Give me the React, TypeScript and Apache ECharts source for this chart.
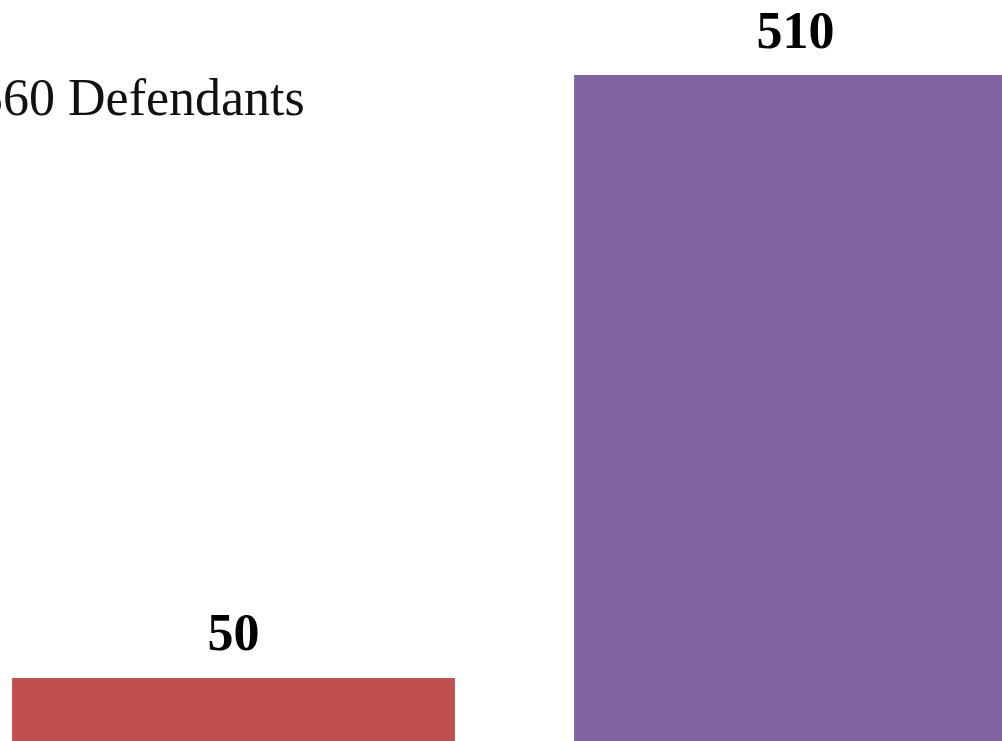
import React, { useEffect, useRef } from "react";
import * as echarts from "echarts";

const categories = ["Group A", "Group B"];
const values = [50, 510];
const barColors = ["#C0504D", "#8064A2"];
const titleText = "560 Defendants";

export default function App() {
  const ref = useRef<HTMLDivElement>(null);
  useEffect(() => {
    if (!ref.current) return;
    const chart = echarts.init(ref.current, undefined, { renderer: "svg" });
    chart.setOption({
      animation: false,
      backgroundColor: "#ffffff",
      grid: { left: 52.5, right: 73.5, top: 9.5, bottom: 56.5, containLabel: false },
      xAxis: {
        type: "category",
        data: categories,
        show: false,
      },
      yAxis: {
        type: "value",
        min: 0,
        max: 560,
        show: false,
        splitLine: { show: false },
      },
      graphic: [
        {
          type: "text",
          x: 77,
          y: 97,
          style: {
            text: titleText,
            fontFamily: "Liberation Serif",
            fontSize: 52,
            fill: "#111111",
            verticalAlign: "middle",
            align: "left",
          },
        },
      ],
      series: [
        {
          type: "bar",
          barCategoryGap: "21.2%",
          data: values.map((v, i) => ({ value: v, itemStyle: { color: barColors[i] } })),
          label: {
            show: true,
            position: "top",
            distance: 19,
            fontFamily: "Liberation Serif",
            fontWeight: "bold",
            fontSize: 52,
            color: "#000000",
          },
        },
      ],
    });
    return () => chart.dispose();
  }, []);
  return (
    <div style={{ position: "fixed", left: 0, top: 0, width: 1002, height: 741, overflow: "hidden", background: "#fff" }}>
      <div ref={ref} style={{ position: "absolute", left: -100, top: 0, width: 1250, height: 800 }} />
    </div>
  );
}
